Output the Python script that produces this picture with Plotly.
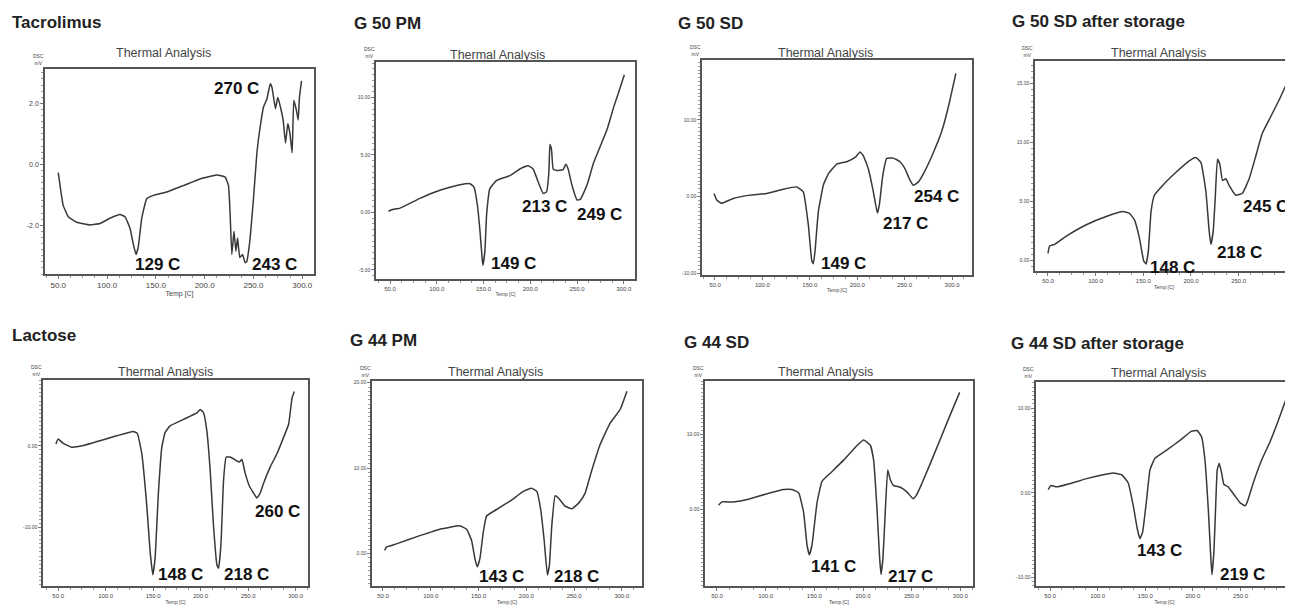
import plotly.graph_objects as go

W, H = 1293, 605
OFF = 8  # default page margin around the figure
FW, FH = W - OFF, H - OFF

# ---------------- data ----------------
panel_titles = ["Tacrolimus", "G 50 PM", "G 50 SD", "G 50 SD after storage",
                "Lactose", "G 44 PM", "G 44 SD", "G 44 SD after storage"]

temp_tacrolimus = [50, 55, 60.3, 68.8, 82.5, 92.8, 103, 113.3, 118.4, 123.5, 127, 129.7, 132, 135.5, 140.6,
                   147.4, 161, 178, 195.3, 212.4, 221, 224.4, 226.1, 227.8, 230, 232, 233.7, 236, 238.8, 241.5,
                   243, 245.8, 250, 253.5, 256.9, 260.3, 263.8, 267.2, 268.9, 272.5, 274.9, 277.6, 280.4, 282.8,
                   285.2, 287.3, 289.6, 291.3, 294, 295.8, 297.1, 299.2]
dsc_tacrolimus = [-0.27, -1.34, -1.72, -1.9, -1.99, -1.94, -1.77, -1.65, -1.72, -2.1, -2.64, -2.96, -2.7, -1.77, -1.13,
                  -1.02, -0.91, -0.7, -0.48, -0.35, -0.42, -0.7, -1.66, -2.96, -2.2, -2.85, -2.42, -3.06, -2.96, -3.23,
                  -3.2, -2.64, -1.13, 0.38, 1.24, 1.88, 2.15, 2.64, 2.53, 1.83, 2.2, 1.88, 1.45, 0.7,
                  1.34, 1.02, 0.38, 2.1, 1.77, 1.45, 2.2, 2.74]

temp_g50pm = [48.2, 51.8, 60.7, 82, 103.4, 124.8, 135.5, 139.8, 143.4, 146.2, 148.7, 149.4, 151.5, 153.3, 156.8,
              164, 178.2, 188.9, 197.8, 203.1, 208.5, 213.8, 217.4, 219.9, 221, 222.7, 224.5, 228, 235.1, 238,
              240.5, 244.6, 250, 253.5, 260.6, 267.8, 274.9, 282, 289.2, 296.3, 300.6]
dsc_g50pm = [0.09, 0.23, 0.37, 1.22, 1.93, 2.41, 2.5, 2.21, 0.65, -1.62, -4.18, -4.6, -3.33, -0.2, 2.07,
             2.78, 3.2, 3.78, 4.06, 3.78, 2.64, 1.65, 1.79, 3.5, 5.91, 5.48, 3.78, 3.64, 3.72, 4.2,
             3.78, 2.36, 1.08, 1.13, 2.36, 4.34, 5.76, 7.19, 9.17, 10.9, 12.0]

temp_g50sd = [49, 51.8, 57, 69.3, 86.9, 104.5, 122, 136.2, 143.1, 148.4, 152, 153.7, 155.5, 159, 164.2,
              169.5, 178.4, 188.9, 197.7, 203, 206.5, 211.7, 217, 221.2, 223.3, 226.9, 231.1, 238.1, 245.1, 250.4,
              255.7, 259.2, 264.5, 271.5, 280.3, 289.1, 296.1, 304]
dsc_g50sd = [0.38, -0.47, -0.9, -0.26, 0.17, 0.38, 0.94, 1.24, 0.6, -3.68, -8.37, -8.8, -7.1, -1.96, 1.45,
             2.95, 4.23, 4.53, 5.09, 5.81, 5.3, 3.59, 0.6, -2.18, -1.1, 2.73, 4.96, 5.0, 4.53, 3.59,
             2.09, 1.45, 1.9, 3.37, 5.73, 8.5, 11.7, 16.06]

temp_g50sd_st = [50, 51.7, 57, 69.2, 90.2, 111.1, 128.5, 135.5, 140.7, 145.9, 150.4, 152.9, 155.3, 158.1, 161.6,
                 170.3, 184.3, 198.2, 205.2, 210.5, 215.7, 219.1, 220.9, 223.3, 225.4, 227.8, 230.2, 233.1, 236.6, 240,
                 247, 254, 261, 268, 274.9, 283.7, 292.4, 301]
dsc_g50sd_st = [0.6, 1.22, 1.36, 2.06, 3.03, 3.72, 4.14, 4.0, 3.44, 1.92, -0.03, -0.3, 0.81, 4.14, 5.53,
                6.36, 7.47, 8.44, 8.72, 8.3, 5.8, 2.47, 1.36, 2.47, 5.25, 8.58, 8.17, 6.78, 6.92, 6.36,
                5.53, 5.7, 6.92, 8.86, 10.8, 12.2, 13.6, 15.1]

temp_lactose = [47.6, 50, 55.3, 64.1, 76.4, 94, 111.6, 129.1, 133.3, 138, 143.3, 146.8, 149.6, 152, 155.5,
                159.1, 162.6, 167.8, 181.9, 196, 199.5, 203, 206.5, 210, 213.5, 217.1, 218.8, 221.3, 224.1, 226.9,
                231.1, 238.2, 240.9, 243.4, 246.9, 251.5, 255.7, 259.2, 262.7, 266.2, 273.3, 280.3, 287.3, 292.6,
                296.2, 298.6]
dsc_lactose = [0.24, 0.84, 0.32, -0.16, 0.04, 0.64, 1.24, 1.77, 1.53, -0.96, -7.39, -13.0, -15.8, -13.8, -5.78,
               -0.16, 1.65, 2.45, 3.25, 4.06, 4.46, 4.06, 1.85, -2.97, -9.8, -14.6, -15.0, -12.2, -4.18, -1.37,
               -1.37, -1.85, -1.97, -1.65, -3.37, -4.98, -5.78, -6.39, -5.78, -4.58, -2.57, -0.96, 1.04, 2.65,
               5.86, 6.66]

temp_g44pm = [51.8, 53.5, 64, 88.5, 109.5, 130.4, 137.5, 142.7, 146.2, 148.6, 151.4, 154.9, 158.4, 168.9, 182.9,
              196.8, 205.6, 210.9, 215, 218.5, 222, 224.1, 226.6, 230.1, 233.6, 240.6, 247.6, 252.8, 256.3, 261.5,
              268.5, 277.3, 287.8, 298.3, 305.2]
dsc_g44pm = [0.39, 0.77, 1.15, 2.11, 2.87, 3.26, 2.87, 1.54, -0.57, -1.53, -0.57, 2.49, 4.41, 5.17, 6.14,
             7.29, 7.67, 7.29, 5.17, 1.72, -2.48, -1.33, 3.26, 6.78, 6.52, 5.56, 5.25, 5.71, 6.14, 7.09,
             9.77, 12.8, 15.3, 16.9, 19.0]

temp_g44sd = [51.7, 55.1, 67.1, 84.2, 101.4, 118.5, 127.1, 133.9, 139, 142.5, 144.9, 147.6, 152.8, 157.9, 166.4,
              180.1, 193.9, 200.7, 207.6, 210.9, 214.4, 217.1, 218.5, 220.5, 223, 225.4, 228.1, 231.5, 238.4, 245.3,
              251.4, 254.8, 260.7, 269.2, 279.5, 289.8, 299.3]
dsc_g44sd = [0.6, 1.03, 1.03, 1.46, 2.11, 2.67, 2.67, 2.24, -0.35, -4.66, -5.95, -4.66, 0.94, 3.75, 4.83,
             6.55, 8.49, 9.22, 8.49, 6.55, 0.08, -6.39, -8.54, -6.39, 0.08, 5.25, 3.96, 3.18, 2.97, 2.33,
             1.46, 1.9, 3.53, 6.12, 9.35, 12.6, 15.5]

temp_g44sd_st = [48.2, 50.7, 57, 71, 88.5, 105.9, 116.4, 125.2, 132.1, 137.4, 141.6, 144.4, 147.2, 151.4, 154.9,
                 160.1, 172.4, 186.4, 198.6, 204.5, 209.1, 212.6, 216.1, 218.6, 219.9, 222, 224.1, 225.5, 227.6, 230.1,
                 232.5, 237, 244.1, 249.3, 254.6, 257, 263.3, 272.1, 280.8, 289.5, 300]
dsc_g44sd_st = [0.38, 0.85, 0.7, 1.09, 1.67, 2.13, 2.33, 2.13, 1.16, -1.55, -4.26, -5.43, -4.65, -0.78, 2.71,
                4.07, 5.04, 6.2, 7.29, 7.36, 6.59, 3.88, -1.94, -7.36, -9.69, -7.0, -0.78, 2.71, 3.49, 2.33,
                0.97, 0.7, -0.39, -1.16, -1.55, -1.1, 1.16, 3.88, 6.01, 8.53, 11.8]

# peak labels: (text, temperature position, dsc position)
peaks_tacrolimus = [("270 C", 233, 2.48), ("129 C", 152, -3.29), ("243 C", 272, -3.29)]
peaks_g50pm = [("149 C", 181.7, -4.47), ("213 C", 215.6, 0.51), ("249 C", 274.4, -0.2)]
peaks_g50sd = [("149 C", 185.3, -8.8), ("217 C", 250.4, -3.59), ("254 C", 283.8, -0.04)]
peaks_g50sd_st = [("148 C", 180.7, -0.58), ("218 C", 250.5, 0.67), ("245 C", 278.4, 4.56)]
peaks_lactose = [("148 C", 178.4, -15.8), ("218 C", 248.7, -15.8), ("260 C", 280.4, -7.99)]
peaks_g44pm = [("143 C", 174.2, -2.68), ("218 C", 252.8, -2.68)]
peaks_g44sd = [("141 C", 169.9, -7.46), ("217 C", 248.7, -8.76)]
peaks_g44sd_st = [("143 C", 165.4, -6.78), ("219 C", 252.1, -9.69)]

x_ticks = [50, 100, 150, 200, 250, 300]
y_ticks_tacrolimus = [-2, 0, 2]
y_ticks_g50pm = [-5, 0, 5, 10]
y_ticks_g50sd = [-10, 0, 10]
y_ticks_g50sd_st = [0, 5, 10, 15]
y_ticks_lactose = [-10, 0]
y_ticks_g44pm = [0, 10, 20]
y_ticks_g44sd = [0, 10]
y_ticks_g44sd_st = [-10, 0, 10]

# ---------------- layout (pixel boxes in the 1293x605 image) ----------------
series = [
    (temp_tacrolimus, dsc_tacrolimus, peaks_tacrolimus, y_ticks_tacrolimus),
    (temp_g50pm, dsc_g50pm, peaks_g50pm, y_ticks_g50pm),
    (temp_g50sd, dsc_g50sd, peaks_g50sd, y_ticks_g50sd),
    (temp_g50sd_st, dsc_g50sd_st, peaks_g50sd_st, y_ticks_g50sd_st),
    (temp_lactose, dsc_lactose, peaks_lactose, y_ticks_lactose),
    (temp_g44pm, dsc_g44pm, peaks_g44pm, y_ticks_g44pm),
    (temp_g44sd, dsc_g44sd, peaks_g44sd, y_ticks_g44sd),
    (temp_g44sd_st, dsc_g44sd_st, peaks_g44sd_st, y_ticks_g44sd_st),
]
# box: left, right, top, bottom (px in the page)
boxes = [(45, 314, 68, 277), (376, 635, 61, 282), (702, 972, 59, 278), (1035, 1293, 60, 274),
         (43, 308, 385, 595), (372, 642, 386, 595), (705, 973, 386, 595), (1036, 1293, 387, 595)]
x_ranges = [(36.4, 312), (35, 312), (36.3, 321), (36.4, 307),
            (34, 313), (38.5, 321), (37.7, 313), (35.3, 305)]
y_ranges = [(-3.6, 3.13), (-5.8, 13.1), (-10.26, 17.8), (-0.9, 16.9),
            (-17.2, 8.07), (-3.8, 20.2), (-10.1, 17), (-11.05, 13.1)]
title_pos = [(10, 21), (352, 22), (676, 22), (1010, 20), (10, 340), (348, 345), (682, 347), (1009, 348)]
ta_pos = [(163, 52), (497, 54), (825, 52), (1158, 52), (165, 377), (495, 377), (825, 377), (1158, 378)]
y_fmt = ["{:.1f}", "{:.2f}", "{:.2f}", "{:.2f}", "{:.2f}", "{:.2f}", "{:.2f}", "{:.2f}"]
open_right = [False, False, False, True, False, False, False, True]


def px(x):
    return min(1.0, max(0.0, (x - OFF) / FW))


def py(y):
    return min(1.0, max(0.0, 1 - (y - OFF) / FH))


FONT = "Arial, Liberation Sans, sans-serif"
LINE = "#383838"
fig = go.Figure()
annotations = []
layout = {}

for i, ((tx, ty, peaks, yt), (l, r, t, b)) in enumerate(zip(series, boxes)):
    n = i + 1
    xa = "x" if n == 1 else f"x{n}"
    ya = "y" if n == 1 else f"y{n}"
    fig.add_trace(go.Scatter(x=tx, y=ty, xaxis=xa, yaxis=ya, mode="lines",
                             line=dict(color=LINE, width=1.5, shape="spline", smoothing=0.35),
                             showlegend=False, hoverinfo="skip"))
    small = 7 if n == 1 else 5
    layout["xaxis" if n == 1 else f"xaxis{n}"] = dict(
        domain=[px(l), px(r)], anchor=ya, range=list(x_ranges[i]),
        tickvals=x_ticks, ticktext=[f"{v:.1f}" for v in x_ticks],
        tickfont=dict(size=small + 1, color="#444", family=FONT),
        showline=True, linecolor="#555", linewidth=1.5, mirror=True,
        ticks="outside", ticklen=3, tickcolor="#777",
        minor=dict(ticks="outside", ticklen=2, tickcolor="#999", dtick=12.5),
        showgrid=False, zeroline=False,
        title=dict(text="Temp [C]", font=dict(size=small, color="#444", family=FONT), standoff=2),
    )
    layout["yaxis" if n == 1 else f"yaxis{n}"] = dict(
        domain=[py(b), py(t)], anchor=xa, range=list(y_ranges[i]),
        tickvals=yt, ticktext=[y_fmt[i].format(v) for v in yt],
        tickfont=dict(size=small, color="#444", family=FONT),
        showline=True, linecolor="#555", linewidth=1.5, mirror=not open_right[i],
        ticks="outside", ticklen=3, tickcolor="#777",
        minor=dict(ticks="outside", ticklen=2, tickcolor="#999", nticks=12),
        showgrid=False, zeroline=False,
    )
    # panel title
    annotations.append(dict(text=f"<b>{panel_titles[i]}</b>", x=px(title_pos[i][0]), y=py(title_pos[i][1]),
                            xref="paper", yref="paper", xanchor="left", yanchor="middle", showarrow=False,
                            font=dict(size=17, color="#222", family=FONT)))
    # Thermal Analysis
    annotations.append(dict(text="Thermal Analysis", x=px(ta_pos[i][0]), y=py(ta_pos[i][1]),
                            xref="paper", yref="paper", xanchor="center", yanchor="middle", showarrow=False,
                            font=dict(size=12.5, color="#444", family=FONT)))
    # DSC mV
    annotations.append(dict(text="DSC<br>mV", x=px(l - 7), y=py(t - 1),
                            xref="paper", yref="paper", xanchor="center", yanchor="bottom", showarrow=False,
                            font=dict(size=5, color="#444", family=FONT)))
    # peak labels
    for txt, xv, yv in peaks:
        annotations.append(dict(text=f"<b>{txt}</b>", x=xv, y=yv, xref=xa, yref=ya,
                                xanchor="center", yanchor="middle", showarrow=False,
                                font=dict(size=17, color="#111", family=FONT)))

fig.update_layout(
    width=FW, height=FH, margin=dict(l=0, r=0, t=0, b=0),
    paper_bgcolor="white", plot_bgcolor="white",
    annotations=annotations, **layout,
)
fig.write_html("out.html")
